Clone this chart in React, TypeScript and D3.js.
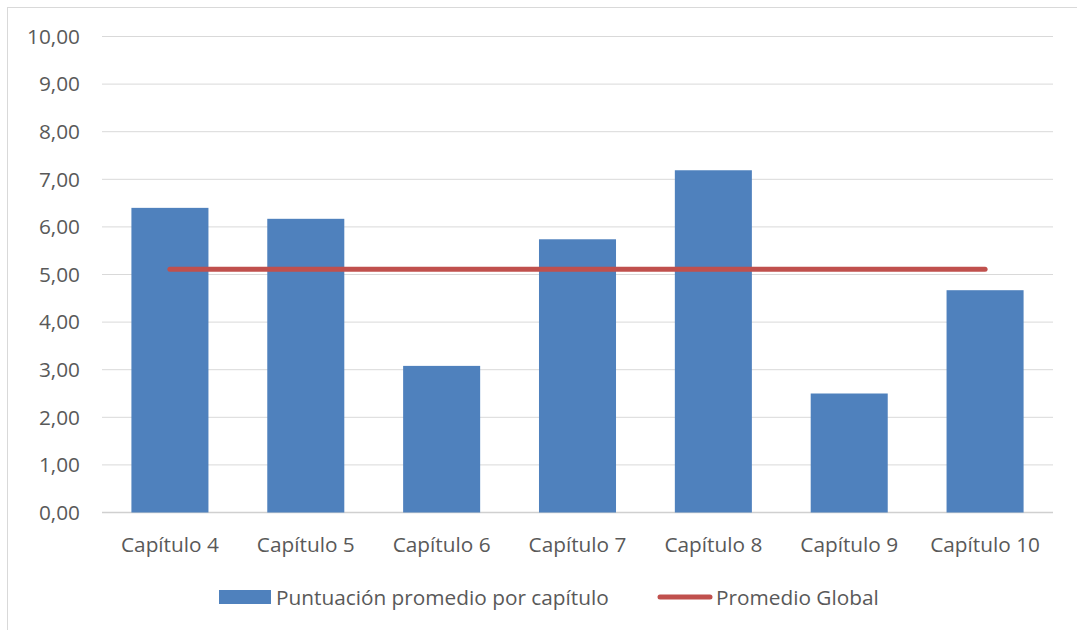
import React from 'react';
import * as d3 from 'd3';

const categories = ['Capítulo 4', 'Capítulo 5', 'Capítulo 6', 'Capítulo 7', 'Capítulo 8', 'Capítulo 9', 'Capítulo 10'];
const scores = [6.4, 6.17, 3.08, 5.74, 7.19, 2.5, 4.67];
const globalAvg = [5.11, 5.11, 5.11, 5.11, 5.11, 5.11, 5.11];
const yTicks = [0, 1, 2, 3, 4, 5, 6, 7, 8, 9, 10];
const seriesNames = ['Puntuación promedio por capítulo', 'Promedio Global'];

const W = 1077;
const H = 630;
const left = 102;
const right = 1053;
const top = 36.5;
const bottom = 512.5;
const font = '"Open Sans", sans-serif';
const fs = 20.8;

const App = () => {
  // band scale for the categories, gap width ~ 76% like Excel
  const x = d3.scaleBand<string>().domain(categories).range([left, right]).paddingInner(0.433).paddingOuter(0.2165);
  const xc = d3.scaleBand<string>().domain(categories).range([left, right]);
  const y = d3.scaleLinear().domain([0, 10]).range([bottom, top]);

  const line = d3.line<number>()
    .x((_, i) => (xc(categories[i]) as number) + xc.bandwidth() / 2)
    .y(d => y(d));

  const fmt = (v: number) => v.toFixed(2).replace('.', ',');

  return (
    <svg width={W} height={H} style={{ position: 'absolute', left: 0, top: 0 }}>
      <rect x={0} y={0} width={W} height={H} fill="#fff" />
      <rect x={7.5} y={7.5} width={W + 10} height={H + 10} fill="none" stroke="#d9d9d9" strokeWidth={1} />

      {yTicks.map(t => (
        <g key={t}>
          <line x1={left} x2={right} y1={y(t)} y2={y(t)} stroke={t === 0 ? '#d0d0d0' : '#d9d9d9'} strokeWidth={t === 0 ? 1.5 : 1} />
          <text x={80} y={y(t)} dy="0.35em" textAnchor="end" fontFamily={font} fontSize={fs} fill="#595959">{fmt(t)}</text>
        </g>
      ))}

      {categories.map((c, i) => (
        <rect key={c} x={x(c)} y={y(scores[i])} width={x.bandwidth()} height={y(0) - y(scores[i])} fill="#4f81bd" />
      ))}

      <path d={line(globalAvg) || ''} fill="none" stroke="#c0504d" strokeWidth={5} strokeLinecap="round" />

      {categories.map(c => (
        <text key={c} x={(xc(c) as number) + xc.bandwidth() / 2} y={552} textAnchor="middle" fontFamily={font} fontSize={fs} fill="#595959">{c}</text>
      ))}

      <g>
        <rect x={219} y={590} width={52} height={14} fill="#4f81bd" />
        <text x={276} y={604.5} fontFamily={font} fontSize={fs} fill="#595959">{seriesNames[0]}</text>
        <line x1={660} x2={710} y1={597} y2={597} stroke="#c0504d" strokeWidth={5} strokeLinecap="round" />
        <text x={716} y={604.5} fontFamily={font} fontSize={fs} fill="#595959">{seriesNames[1]}</text>
      </g>
    </svg>
  );
};

export default App;
